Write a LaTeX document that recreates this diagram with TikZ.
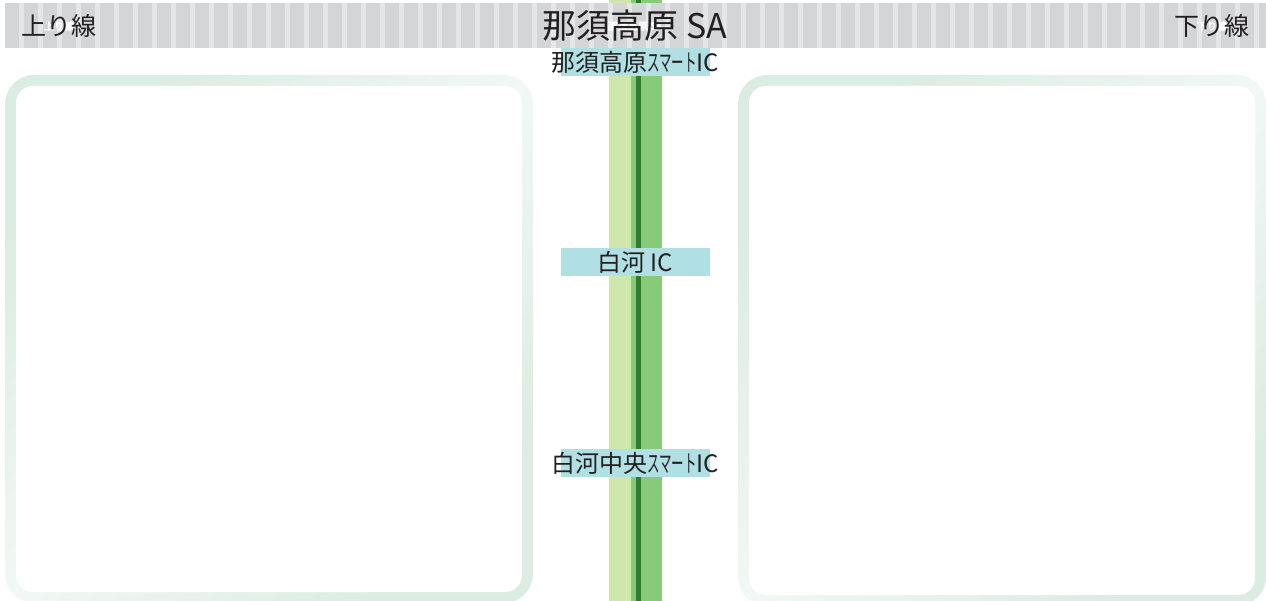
\documentclass[tikz,border=0pt]{standalone}
\usepackage{fontspec}
\usepackage{graphicx}
\setmainfont{Noto Sans CJK JP}
\newfontfamily\halofont{Noto Sans CJK JP}[FakeBold=5]
\usetikzlibrary{positioning}

\definecolor{hdrgray}{HTML}{D4D5D7}
\definecolor{hdrstripe}{HTML}{E5E6E8}
\definecolor{roadlight}{HTML}{CFE6AD}
\definecolor{roadmid}{HTML}{88C97A}
\definecolor{roaddark}{HTML}{2E7D30}
\definecolor{icbox}{HTML}{B0DFE4}
\definecolor{panelA}{HTML}{DBECE2}
\definecolor{panelB}{HTML}{F2F8F5}
\definecolor{inktext}{HTML}{231F20}

% narrow katakana
\newcommand{\hankaku}[1]{\scalebox{0.52}[1]{#1}}

\begin{document}
\begin{tikzpicture}[
    x=1pt, y=-1pt,
    titletext/.style={inner sep=0pt, text=inktext, font=\fontsize{34}{34}\selectfont},
    sidetext/.style={inner sep=0pt, text=inktext, font=\fontsize{25}{25}\selectfont},
    halo/.style={text=white, font=\halofont},
    ictext/.style={inner sep=0pt, text=inktext, font=\fontsize{24}{24}\selectfont},
    icbar/.style={fill=icbox, draw=none},
    panelring/.style={top color=panelA, bottom color=panelA, middle color=panelB, shading angle=45, rounded corners=29pt},
    panelinner/.style={fill=white, rounded corners=17pt}
]
\useasboundingbox (0,0) rectangle (1266,601);

% Road
\fill[roadlight] (609,0) rectangle (631,601);
\fill[roadmid] (631,0) rectangle (662,601);
\fill[roaddark] (636,0) rectangle (641,601);

% Panels
\shade[panelring] (5,75) rectangle (533,603);
\fill[panelinner] (16,86) rectangle (522,592);
\shade[panelring] (738,75) rectangle (1266,606);
\fill[panelinner] (749,86) rectangle (1255,595);

% Header bar
\fill[hdrgray] (5,3) rectangle (1266,48);
\foreach \i in {0,...,65}
    \fill[hdrstripe] ({19+19*\i},3) rectangle ++(5,45);

% Header texts, white halo underneath
\node[titletext, halo] at (635,26) {那須高原 SA};
\node[sidetext, halo] at (59,26) {上り線};
\node[sidetext, halo] at (1212,26) {下り線};
\node[titletext] (title) at (635,26) {那須高原 SA};
\node[sidetext] (upline) at (59,26) {上り線};
\node[sidetext] (downline) at (1212,26) {下り線};

% Interchanges
\fill[icbar] (561,48) rectangle (710,76);
\node[ictext] (nasuic) at (635,62) {那須高原\hankaku{スマート}IC};
\fill[icbar] (561,248) rectangle (710,276);
\node[ictext] (shirakawaic) at (635,262) {白河 IC};
\fill[icbar] (561,449) rectangle (710,477);
\node[ictext] (chuoic) at (635,463) {白河中央\hankaku{スマート}IC};

\end{tikzpicture}
\end{document}
